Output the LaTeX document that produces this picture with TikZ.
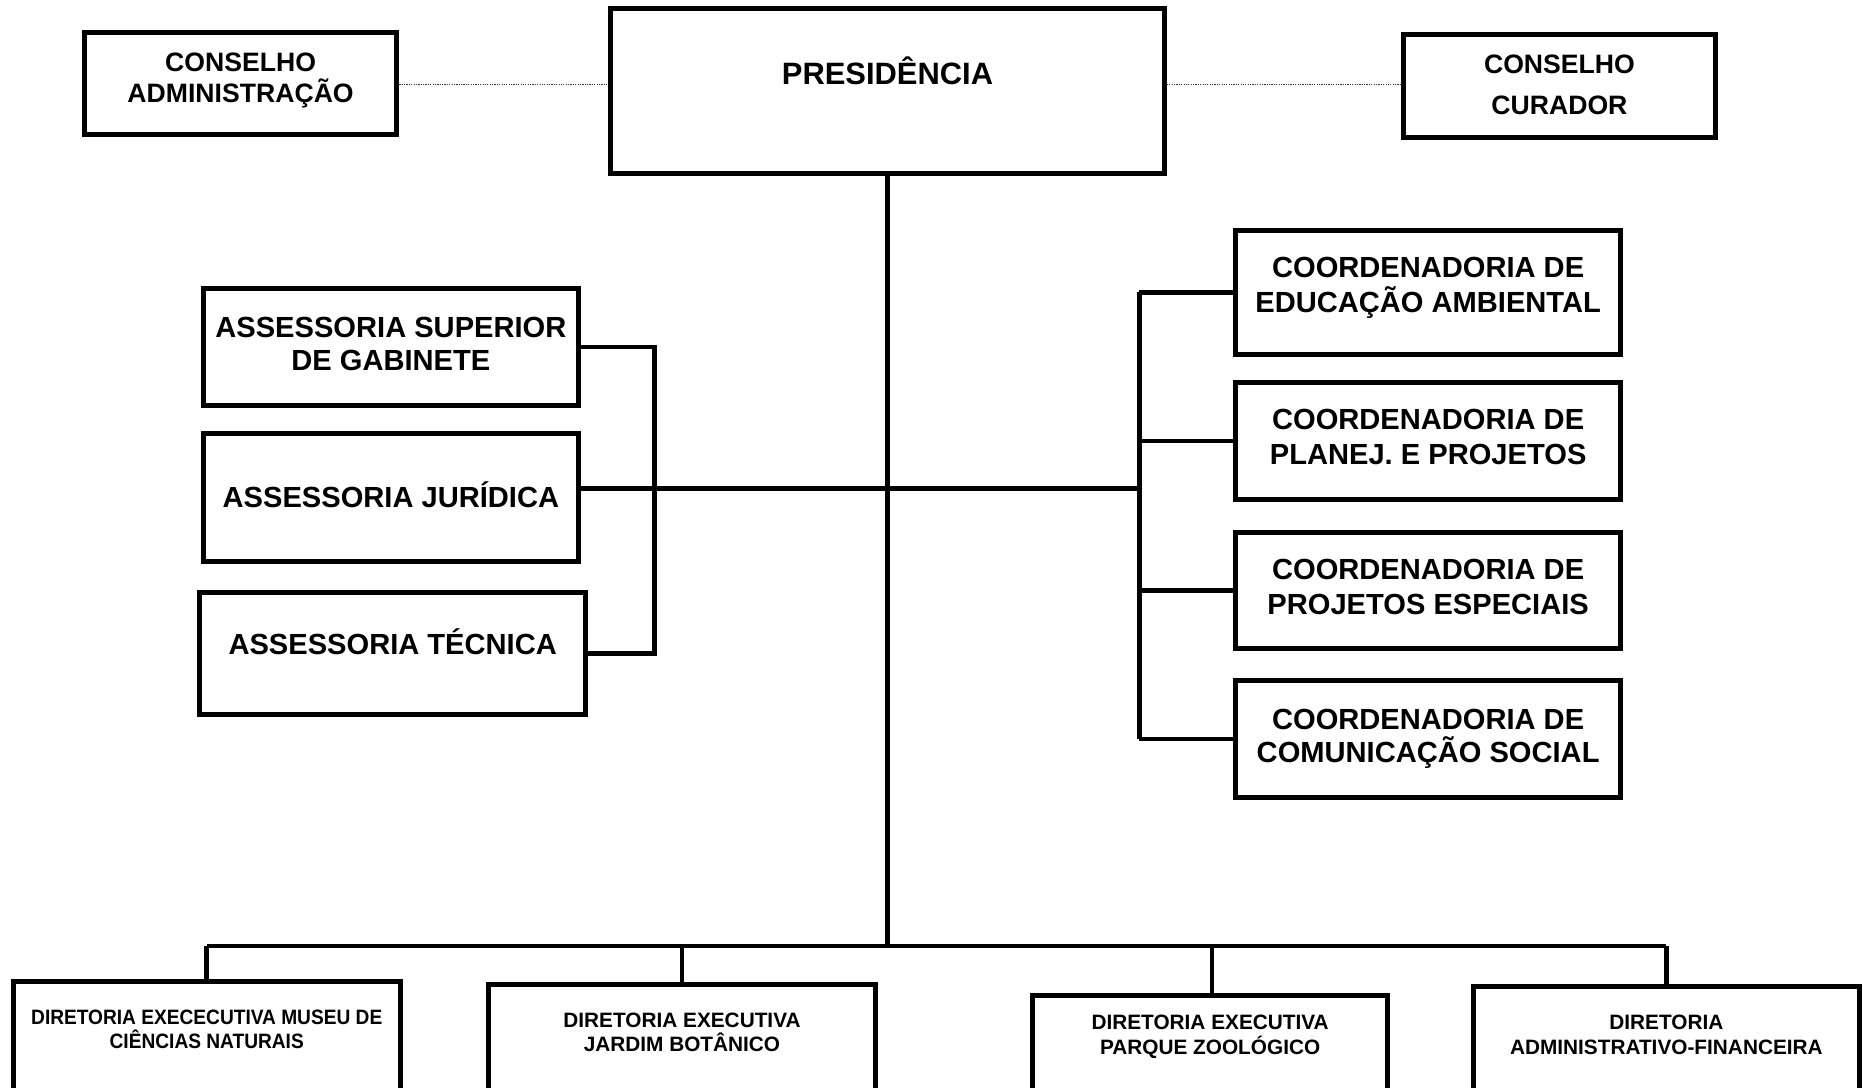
\documentclass[tikz,border=0pt]{standalone}
\usepackage{fontspec}
\setmainfont{Liberation Sans}
\begin{document}
\begin{tikzpicture}[x=1pt,y=-1pt,
  box/.style={draw=black,line width=4.2pt,rectangle,inner sep=0pt,fill=white},
  link/.style={draw=black,line width=3.8pt},
  dotlink/.style={draw=black!80,line width=1pt,dash pattern=on 1pt off 1pt},
  big/.style={inner sep=0pt,anchor=base,font=\bfseries\fontsize{24.5}{29}\selectfont},
  pres/.style={inner sep=0pt,anchor=base,font=\bfseries\fontsize{26}{30}\selectfont},
  cons/.style={inner sep=0pt,anchor=base,font=\bfseries\fontsize{22.4}{26}\selectfont},
  small/.style={inner sep=0pt,anchor=base,font=\bfseries\fontsize{17.5}{21}\selectfont}]
\useasboundingbox (0,0) rectangle (1568,915);
\clip (0,0) rectangle (1568,915);
\fill[white] (0,0) rectangle (1568,915);

% coordinates for connector joints
\coordinate (bus) at (748,796);
\coordinate (hR) at (959,411);
\coordinate (rb) at (959,0);
\coordinate (lb) at (551,0);

% boxes
\node[box,minimum width=466pt,minimum height=139pt] (presb) at (747,76.5) {};
\node[box,minimum width=263pt,minimum height=86pt] (consadm) at (202.5,70) {};
\node[box,minimum width=263pt,minimum height=87pt] (conscur) at (1312.5,72.5) {};
\node[box,minimum width=316pt,minimum height=98pt] (sup) at (329,292) {};
\node[box,minimum width=316pt,minimum height=108pt] (jur) at (329,419) {};
\node[box,minimum width=325pt,minimum height=102pt] (tec) at (330.5,550) {};
\node[box,minimum width=324pt,minimum height=104pt] (c1) at (1202,246) {};
\node[box,minimum width=324pt,minimum height=98pt] (c2) at (1202,371) {};
\node[box,minimum width=324pt,minimum height=98pt] (c3) at (1202,497) {};
\node[box,minimum width=324pt,minimum height=98pt] (c4) at (1202,622) {};
\node[box,minimum width=326pt,minimum height=134pt] (museu) at (174,893) {};
\node[box,minimum width=326pt,minimum height=131pt] (jardim) at (574,894.5) {};
\node[box,minimum width=299pt,minimum height=122pt] (zoo) at (1018.5,899) {};
\node[box,minimum width=325pt,minimum height=130pt] (fin) at (1402.5,895) {};

% connectors
\draw[dotlink] (consadm.east |- 0,71) -- (presb.west |- 0,71);
\draw[dotlink] (presb.east |- 0,71) -- (conscur.west |- 0,71);
\draw[link] (presb.south) -- (presb.south |- bus);
\draw[link] (museu.north |- bus) -- (fin.north |- bus);
\draw[link] (museu.north) -- (museu.north |- bus);
\draw[link] (jardim.north) -- (jardim.north |- bus);
\draw[link] (zoo.north) ++(1.5,0) -- (1020,796);
\draw[link] (fin.north) -- (fin.north |- bus);
\draw[link] (jur.east |- hR) -- (hR);
\draw[link] (c1.west -| rb) -- (c4.west -| rb);
\draw[link] (c1.west) -- (c1.west -| rb);
\draw[link] (c2.west) -- (c2.west -| rb);
\draw[link] (c3.west) -- (c3.west -| rb);
\draw[link] (c4.west) -- (c4.west -| rb);
\draw[link] (sup.east) -- (sup.east -| lb) -- (lb |- tec.east) -- (tec.east);

% texts
\node[pres] (tpres) at (747,71.3) {PRESIDÊNCIA};
\node[cons] (tca1) at (202.5,60) {CONSELHO};
\node[cons] (tca2) at (202.5,86) {ADMINISTRAÇÃO};
\node[cons] (tcc1) at (1312.5,62) {CONSELHO};
\node[cons] (tcc2) at (1312.5,96) {CURADOR};
\node[big] (ts1) at (329,283.8) {ASSESSORIA SUPERIOR};
\node[big] (ts2) at (329,311.8) {DE GABINETE};
\node[big] (tj) at (329,426.8) {ASSESSORIA JURÍDICA};
\node[big] (tt) at (330.5,550.8) {ASSESSORIA TÉCNICA};
\node[big] (tc1a) at (1202,233.8) {COORDENADORIA DE};
\node[big] (tc1b) at (1202,262.8) {EDUCAÇÃO AMBIENTAL};
\node[big] (tc2a) at (1202,361.8) {COORDENADORIA DE};
\node[big] (tc2b) at (1202,390.8) {PLANEJ. E PROJETOS};
\node[big] (tc3a) at (1202,487.8) {COORDENADORIA DE};
\node[big] (tc3b) at (1202,516.8) {PROJETOS ESPECIAIS};
\node[big] (tc4a) at (1202,613.8) {COORDENADORIA DE};
\node[big] (tc4b) at (1202,641.8) {COMUNICAÇÃO SOCIAL};
\node[small] (tm1) at (174,862.4) {\scalebox{0.92}[1]{DIRETORIA EXECECUTIVA MUSEU DE}};
\node[small] (tm2) at (174,882.4) {\scalebox{0.92}[1]{CIÊNCIAS NATURAIS}};
\node[small] (tjb1) at (574,864.4) {DIRETORIA EXECUTIVA};
\node[small] (tjb2) at (574,885.4) {JARDIM BOTÂNICO};
\node[small] (tz1) at (1018.5,866.4) {DIRETORIA EXECUTIVA};
\node[small] (tz2) at (1018.5,887.4) {PARQUE ZOOLÓGICO};
\node[small] (tf1) at (1402.5,866.4) {DIRETORIA};
\node[small] (tf2) at (1402.5,887.4) {ADMINISTRATIVO-FINANCEIRA};
\end{tikzpicture}
\end{document}
